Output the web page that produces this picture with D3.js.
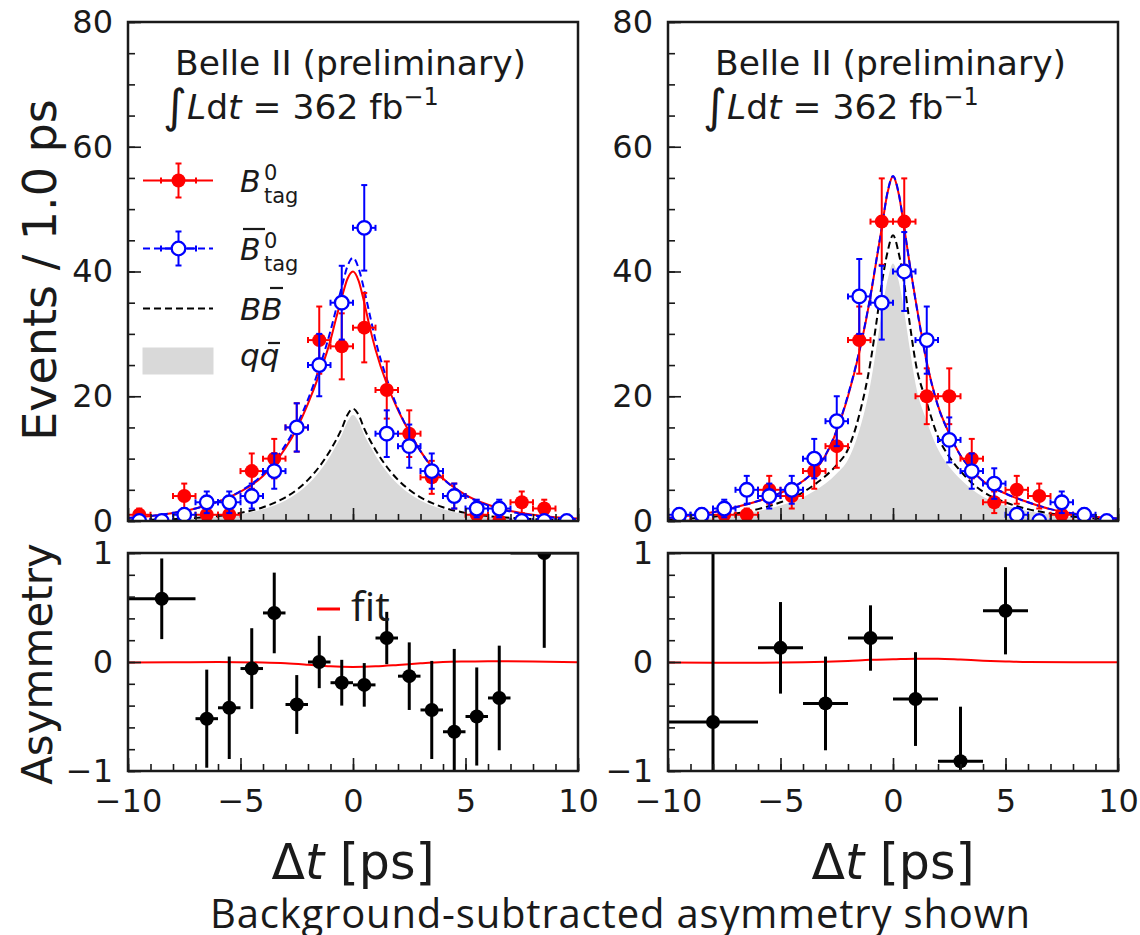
<!DOCTYPE html>
<html><head><meta charset="utf-8">
<script src="https://cdn.jsdelivr.net/npm/d3@7"></script>
<style>
body{margin:0;background:#fff}
svg{display:block}
text{font-family:"DejaVu Sans",sans-serif;fill:#1a1a1a}
</style>
</head><body><svg id="c" width="1140" height="935"></svg>
<script>
// ---------------- data ----------------
const binCenters = [-9.5,-8.5,-7.5,-6.5,-5.5,-4.5,-3.5,-2.5,-1.5,-0.5,0.5,1.5,2.5,3.5,4.5,5.5,6.5,7.5,8.5,9.5];
const leftB0     = [1,0,4,1,1,8,10,15,29,28,31,21,14,7,4,1,0,3,2,0];
const leftB0bar  = [0,0,1,3,3,4,8,15,25,35,47,14,12,8,4,2,2,0,0,0];
const rightB0    = [0,0,1,1,5,4,8,12,29,48,48,20,20,10,3,5,4,1,0,0];
const rightB0bar = [1,1,2,5,4,5,10,16,36,35,40,29,13,8,6,1,0,3,1,0];

const tGrid = [-10,-9,-8,-7,-6,-5,-4,-3.5,-3,-2.5,-2,-1.5,-1,-0.75,-0.5,-0.25,0,0.25,0.5,0.75,1,1.5,2,2.5,3,3.5,4,5,6,7,8,9,10];
const leftFitB0    = [0.5,0.8,1.3,2.0,3.1,4.7,7.2,9.2,11.7,14.8,18.8,23.5,29.0,32.5,35.8,38.8,40.0,38.5,35.0,31.0,27.5,22.0,17.8,14.3,11.2,8.7,6.8,4.2,2.6,1.6,1.0,0.6,0.4];
const leftFitB0bar = [0.5,0.8,1.3,2.0,3.1,4.8,7.5,9.6,12.2,15.4,19.5,24.5,30.5,34.0,37.5,40.8,42.2,40.5,37.0,33.0,29.0,22.8,18.0,14.3,11.2,8.7,6.8,4.1,2.5,1.5,0.9,0.5,0.3];
const leftBB       = [0.1,0.2,0.3,0.5,0.8,1.3,2.2,2.9,3.8,5.0,6.6,8.7,11.4,13.0,14.8,17.0,18.0,17.0,14.8,13.0,11.4,8.7,6.6,5.0,3.8,2.9,2.2,1.3,0.8,0.5,0.3,0.2,0.1];
const leftQQ       = [0.1,0.15,0.25,0.4,0.7,1.1,1.9,2.5,3.3,4.4,5.9,7.9,10.5,12.1,13.8,15.9,17.0,15.9,13.8,12.1,10.5,7.9,5.9,4.4,3.3,2.5,1.9,1.1,0.7,0.4,0.25,0.15,0.1];
const rightFitB0    = [0.5,0.9,1.4,2.2,3.2,4.5,6.4,8.0,10.5,14.5,20.0,27.0,36.0,41.5,47.0,52.5,55.2,52.5,47.0,41.0,35.5,25.5,18.5,14.0,10.5,8.2,6.4,4.4,3.0,1.9,1.2,0.7,0.4];
const rightFitB0bar = [0.5,0.9,1.4,2.2,3.2,4.5,6.4,8.0,10.6,14.6,20.2,27.2,36.2,41.6,47.0,52.6,55.3,52.6,47.0,41.0,35.4,25.4,18.4,14.0,10.5,8.2,6.4,4.4,3.0,1.9,1.2,0.7,0.4];
const rightBB       = [0.25,0.4,0.7,1.2,1.9,3.0,4.6,5.8,7.2,9.0,11.5,17.0,25.5,31.5,38.0,43.0,45.8,43.0,38.0,31.5,25.5,19.0,13.5,10.3,8.0,6.1,4.7,3.0,1.9,1.2,0.7,0.4,0.25];
const rightQQ       = [0.2,0.35,0.6,1.0,1.6,2.5,3.8,4.8,6.0,7.6,9.8,14.5,22.0,27.5,33.5,38.5,41.3,38.5,33.5,27.5,22.0,16.0,11.5,8.7,6.7,5.1,3.9,2.5,1.6,1.0,0.6,0.35,0.2];

const leftAsymX    = [-8.5,-6.5,-5.5,-4.5,-3.5,-2.5,-1.5,-0.5,0.5,1.5,2.5,3.5,4.5,5.5,6.5,8.5];
const leftAsymXErr = [1.5,0.5,0.5,0.5,0.5,0.5,0.5,0.5,0.5,0.5,0.5,0.5,0.5,0.5,0.5,1.5];
const leftAsymY    = [0.58,-0.52,-0.42,-0.06,0.45,-0.39,0.0,-0.19,-0.21,0.22,-0.13,-0.44,-0.64,-0.50,-0.33,1.0];
const leftAsymYErr = [0.37,0.45,0.47,0.37,0.37,0.27,0.24,0.21,0.20,0.24,0.31,0.45,0.76,0.45,0.48,0.87];
const rightAsymX    = [-8,-5,-3,-1,1,3,5];
const rightAsymXErr = [2,1,1,1,1,1,1];
const rightAsymY    = [-0.55,0.13,-0.38,0.22,-0.34,-0.91,0.47];
const rightAsymYErr = [1.7,0.42,0.43,0.30,0.43,0.50,0.40];

const asymGrid = [-10,-8,-6,-4,-3,-2,-1,0,1,2,3,4,5,6,8,10];
const leftAsymFit  = [-0.005,-0.003,0.0,-0.005,-0.012,-0.025,-0.04,-0.045,-0.04,-0.027,-0.012,0.0,0.005,0.008,0.005,-0.002];
const rightAsymFit = [-0.005,-0.006,-0.006,-0.002,0.003,0.01,0.02,0.025,0.03,0.03,0.022,0.012,0.005,0.0,-0.002,-0.002];

const xTicks = [-10,-5,0,5,10];
const xMinorTicks = [-10,-9,-8,-7,-6,-5,-4,-3,-2,-1,0,1,2,3,4,5,6,7,8,9,10];
const yTopTicks = [0,20,40,60,80];
const yTopMinor = [0,5,10,15,20,25,30,35,40,45,50,55,60,65,70,75,80];
const yBotTicks = [-1,0,1];
const yBotMinor = [-1,-0.8,-0.6,-0.4,-0.2,0,0.2,0.4,0.6,0.8,1];

// ---------------- drawing ----------------
const svg = d3.select("#c");
svg.append("rect").attr("width",1140).attr("height",935).attr("fill","#fff");
const defs = svg.append("defs");
const TOP = [22,521], BOT = [553,771];
const RED = "#ff0000", BLUE = "#0000ff", INK = "#1a1a1a";

const panels = [
  {x0:128,x1:578,b0:leftB0,b0bar:leftB0bar,fit0:leftFitB0,fit1:leftFitB0bar,bb:leftBB,qq:leftQQ,
   ax:leftAsymX,axe:leftAsymXErr,ay:leftAsymY,aye:leftAsymYErr,afit:leftAsymFit,legend:true},
  {x0:668,x1:1118,b0:rightB0,b0bar:rightB0bar,fit0:rightFitB0,fit1:rightFitB0bar,bb:rightBB,qq:rightQQ,
   ax:rightAsymX,axe:rightAsymXErr,ay:rightAsymY,aye:rightAsymYErr,afit:rightAsymFit,legend:false}
];

function axes(x, y, yr, yMaj, yMin, xLabels){
  const g = svg.append("g");
  const bx = g.append("g").attr("transform",`translate(0,${yr[1]})`);
  bx.call(d3.axisBottom(x).tickValues(xMinorTicks).tickFormat(()=> "").tickSizeInner(-7).tickSizeOuter(0));
  const bx2 = g.append("g").attr("transform",`translate(0,${yr[1]})`);
  bx2.call(d3.axisBottom(x).tickValues(xTicks).tickSizeInner(-13).tickSizeOuter(0).tickPadding(18)
     .tickFormat(xLabels ? d3.format("") : ()=>""));
  const ly = g.append("g").attr("transform",`translate(${x.range()[0]},0)`);
  ly.call(d3.axisLeft(y).tickValues(yMin).tickFormat(()=> "").tickSizeInner(-7).tickSizeOuter(0));
  const ly2 = g.append("g").attr("transform",`translate(${x.range()[0]},0)`);
  ly2.call(d3.axisLeft(y).tickValues(yMaj).tickSizeInner(-13).tickSizeOuter(0).tickPadding(15).tickFormat(d3.format("")));
  g.selectAll(".domain").remove();
  g.selectAll(".tick line").attr("stroke",INK).attr("stroke-width",1.6);
  g.selectAll(".tick text").attr("font-size",32).attr("fill",INK).style("font-family","DejaVu Sans");
  svg.append("rect").attr("x",x.range()[0]).attr("y",yr[0]).attr("width",x.range()[1]-x.range()[0])
    .attr("height",yr[1]-yr[0]).attr("fill","none").attr("stroke",INK).attr("stroke-width",2.5);
}

function errPoint(g, cx, cy, xl, xr, yt, yb, color, cap, lw){
  const seg = (x1,y1,x2,y2)=> g.append("line").attr("x1",x1).attr("y1",y1).attr("x2",x2).attr("y2",y2)
      .attr("stroke",color).attr("stroke-width",lw);
  seg(xl,cy,xr,cy); seg(cx,yt,cx,yb);
  if(cap>0){ seg(xl,cy-cap,xl,cy+cap); seg(xr,cy-cap,xr,cy+cap); seg(cx-cap,yt,cx+cap,yt); seg(cx-cap,yb,cx+cap,yb); }
}

panels.forEach((p,i)=>{
  const x = d3.scaleLinear().domain([-10,10]).range([p.x0,p.x1]);
  const yT = d3.scaleLinear().domain([0,80]).range([TOP[1],TOP[0]]);
  const yB = d3.scaleLinear().domain([-1,1]).range([BOT[1],BOT[0]]);
  const cT = "clipT"+i, cB = "clipB"+i;
  defs.append("clipPath").attr("id",cT).append("rect").attr("x",p.x0).attr("y",TOP[0]).attr("width",p.x1-p.x0).attr("height",TOP[1]-TOP[0]);
  defs.append("clipPath").attr("id",cB).append("rect").attr("x",p.x0).attr("y",BOT[0]).attr("width",p.x1-p.x0).attr("height",BOT[1]-BOT[0]);

  // ---- top panel ----
  const gt = svg.append("g").attr("clip-path",`url(#${cT})`);
  const area = d3.area().x((d,k)=>x(tGrid[k])).y0(yT(0)).y1(d=>yT(d)).curve(d3.curveMonotoneX);
  const line = d3.line().x((d,k)=>x(tGrid[k])).y(d=>yT(d)).curve(d3.curveMonotoneX);
  gt.append("path").datum(p.qq).attr("d",area).attr("fill","#d9d9d9");
  gt.append("path").datum(p.bb).attr("d",line).attr("fill","none").attr("stroke","#000").attr("stroke-width",2).attr("stroke-dasharray","7,4");
  gt.append("path").datum(p.fit0).attr("d",line).attr("fill","none").attr("stroke",RED).attr("stroke-width",2);
  gt.append("path").datum(p.fit1).attr("d",line).attr("fill","none").attr("stroke",BLUE).attr("stroke-width",2).attr("stroke-dasharray","7,4");

  const gr = gt.append("g");
  p.b0.forEach((n,k)=>{
    const e = Math.sqrt(n), c = binCenters[k];
    errPoint(gr, x(c), yT(n), x(c-0.5), x(c+0.5), yT(n+e), yT(n-e), RED, 3, 2);
    gr.append("circle").attr("cx",x(c)).attr("cy",yT(n)).attr("r",7).attr("fill",RED);
  });
  const gb = gt.append("g");
  p.b0bar.forEach((n,k)=>{
    const e = Math.sqrt(n), c = binCenters[k];
    errPoint(gb, x(c), yT(n), x(c-0.5), x(c+0.5), yT(n+e), yT(n-e), BLUE, 3, 2);
    gb.append("circle").attr("cx",x(c)).attr("cy",yT(n)).attr("r",6.8).attr("fill","#fff").attr("stroke",BLUE).attr("stroke-width",2.3);
  });
  axes(x, yT, TOP, yTopTicks, yTopMinor, false);

  // ---- bottom panel ----
  const gbt = svg.append("g").attr("clip-path",`url(#${cB})`);
  const aline = d3.line().x((d,k)=>x(asymGrid[k])).y(d=>yB(d)).curve(d3.curveMonotoneX);
  gbt.append("path").datum(p.afit).attr("d",aline).attr("fill","none").attr("stroke",RED).attr("stroke-width",2);
  p.ay.forEach((v,k)=>{
    const c = p.ax[k], ex = p.axe[k], ey = p.aye[k];
    errPoint(gbt, x(c), yB(v), x(c-ex), x(c+ex), yB(v+ey), yB(v-ey), "#000", 0, 3);
    gbt.append("circle").attr("cx",x(c)).attr("cy",yB(v)).attr("r",7).attr("fill","#000");
  });
  axes(x, yB, BOT, yBotTicks, yBotMinor, true);

  // ---- texts ----
  const ox = p.x0 - 128;
  svg.append("text").attr("x",175+ox).attr("y",75).attr("font-size",34.5).text("Belle II (preliminary)");
  const it = svg.append("text").attr("x",163+ox).attr("y",119).attr("font-size",34.5);
  it.append("tspan").attr("font-size",46).attr("dy",3).text("∫");
  it.append("tspan").attr("dy",-3).attr("font-style","italic").text("L");
  it.append("tspan").text("d");
  it.append("tspan").attr("font-style","italic").text("t");
  it.append("tspan").text(" = 362 fb");
  it.append("tspan").attr("font-size",24).attr("dy",-14).text("−1");

  svg.append("text").attr("x",(p.x0+p.x1)/2).attr("y",879).attr("text-anchor","middle").attr("font-size",49)
    .call(t=>{ t.append("tspan").text("Δ"); t.append("tspan").attr("font-style","italic").text("t"); t.append("tspan").text(" [ps]"); });

  if(p.legend){
    const lg = svg.append("g");
    lg.append("line").attr("x1",143).attr("x2",213).attr("y1",180.5).attr("y2",180.5).attr("stroke",RED).attr("stroke-width",2);
    errPoint(lg,178.5,180.5,161,196,163.5,197.5,RED,3,2);
    lg.append("circle").attr("cx",178.5).attr("cy",180.5).attr("r",7).attr("fill",RED);
    lg.append("line").attr("x1",143).attr("x2",213).attr("y1",248.5).attr("y2",248.5).attr("stroke",BLUE).attr("stroke-width",2).attr("stroke-dasharray","7,4");
    errPoint(lg,178.5,248.5,161,196,231.5,265.5,BLUE,3,2);
    lg.append("circle").attr("cx",178.5).attr("cy",248.5).attr("r",6.8).attr("fill","#fff").attr("stroke",BLUE).attr("stroke-width",2.3);
    lg.append("line").attr("x1",143).attr("x2",213).attr("y1",308.5).attr("y2",308.5).attr("stroke","#000").attr("stroke-width",2).attr("stroke-dasharray","7,4");
    lg.append("rect").attr("x",142.5).attr("y",347.5).attr("width",71).attr("height",27).attr("fill","#d9d9d9");

    const t1 = lg.append("text").attr("x",240).attr("y",192).attr("font-size",30);
    t1.append("tspan").attr("font-style","italic").text("B");
    t1.append("tspan").attr("x",264).attr("dy",-12).attr("font-size",21).text("0");
    t1.append("tspan").attr("x",264).attr("dy",23).attr("font-size",21).text("tag");
    const t2 = lg.append("text").attr("x",240).attr("y",260).attr("font-size",30);
    t2.append("tspan").attr("font-style","italic").text("B");
    t2.append("tspan").attr("x",264).attr("dy",-12).attr("font-size",21).text("0");
    t2.append("tspan").attr("x",264).attr("dy",23).attr("font-size",21).text("tag");
    lg.append("line").attr("x1",243).attr("x2",265).attr("y1",229).attr("y2",229).attr("stroke",INK).attr("stroke-width",2.2);
    lg.append("text").attr("x",240).attr("y",320).attr("font-size",31).attr("font-style","italic").text("BB");
    lg.append("line").attr("x1",270).attr("x2",283).attr("y1",288).attr("y2",288).attr("stroke",INK).attr("stroke-width",2.2);
    lg.append("text").attr("x",240).attr("y",366).attr("font-size",31).attr("font-style","italic").text("qq");
    lg.append("line").attr("x1",268).attr("x2",280).attr("y1",343).attr("y2",343).attr("stroke",INK).attr("stroke-width",2.2);

    svg.append("line").attr("x1",317).attr("x2",340).attr("y1",609).attr("y2",609).attr("stroke",RED).attr("stroke-width",3);
    svg.append("text").attr("x",351).attr("y",621).attr("font-size",41).style("font-family","'Open Sans'").text("fit");
  }
});

svg.append("text").attr("transform","translate(56,270) rotate(-90)").attr("text-anchor","middle").attr("font-size",46).text("Events / 1.0 ps");
svg.append("text").attr("transform","translate(52,664) rotate(-90)").attr("text-anchor","middle").attr("font-size",42).text("Asymmetry");

svg.append("text").attr("x",620).attr("y",928).attr("text-anchor","middle").attr("font-size",40)
  .attr("textLength",820).style("font-family","'Open Sans'").text("Background-subtracted asymmetry shown");
</script>
</body></html>
